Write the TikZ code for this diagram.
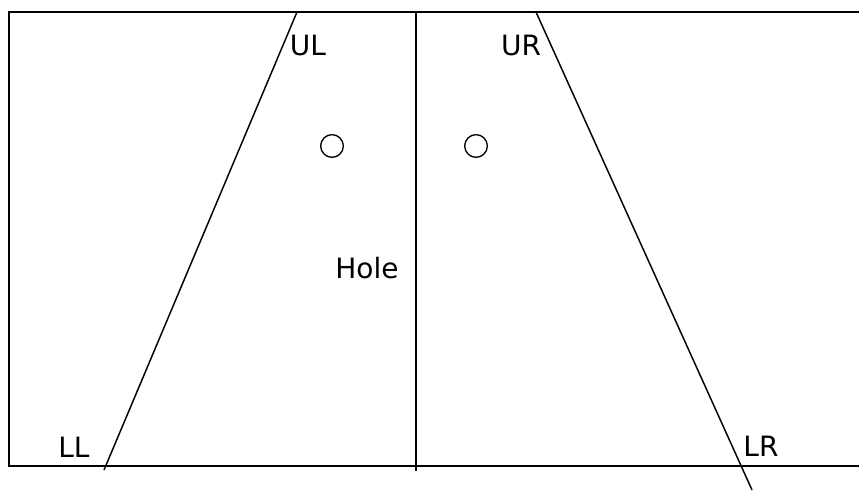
\documentclass[tikz,border=0pt]{standalone}
\usepackage{fontspec}
\setmainfont{DejaVu Sans}
\usetikzlibrary{positioning}

\begin{document}
\begin{tikzpicture}[
  x=0.75pt, y=-0.75pt,
  frame/.style={line width=1.3pt},
  cut/.style={line width=1.1pt},
  tag/.style={font=\fontsize{21}{23}\selectfont, inner sep=0pt},
  hole/.style={draw, circle, line width=1pt, minimum size=17pt, inner sep=0pt}
]
\useasboundingbox (0,0) rectangle (859,491);

% frame (open on the right)
\coordinate (tl) at (9,12);
\coordinate (tr) at (859,12);
\coordinate (bl) at (9,466);
\coordinate (br) at (859,466);
\draw[frame] (tr) -- (tl) -- (bl) -- (br);

% centre line
\coordinate (midT) at (416,12);
\coordinate (midB) at (416,471);
\draw[frame] (midT) -- (midB);

% slanted cuts
\coordinate (ulEnd) at (297,12);
\coordinate (llEnd) at (104,470);
\coordinate (urEnd) at (536,12);
\coordinate (lrEnd) at (752,490);
\draw[cut] (ulEnd) -- (llEnd);
\draw[cut] (urEnd) -- (lrEnd);

% holes
\node[hole] (hL) at (332,146) {};
\node[hole] (hR) at (476,146) {};

% labels
\node[tag] (UL) at (308,45) {UL};
\node[tag] (UR) at (521,45) {UR};
\node[tag] (LL) at (74,447) {LL};
\node[tag] (LR) at (761,446) {LR};
\node[tag] (Hole) at (367,268) {Hole};

\end{tikzpicture}
\end{document}
